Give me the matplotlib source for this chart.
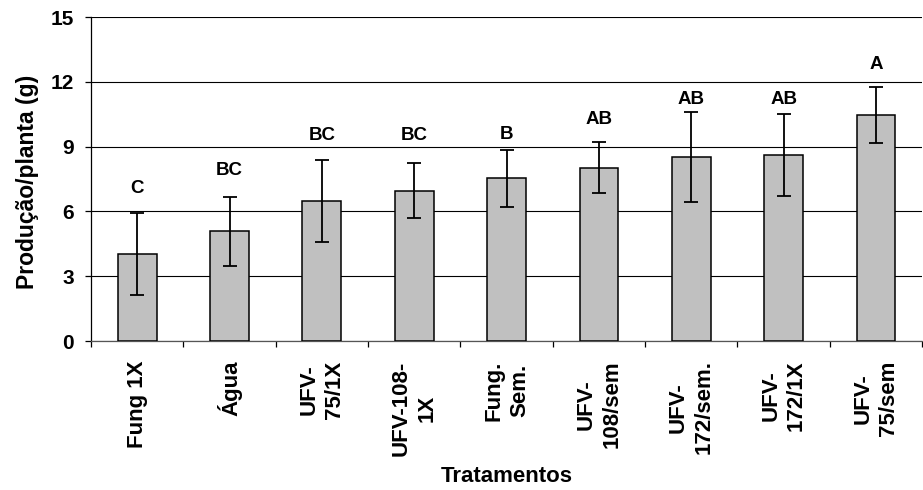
import numpy as np
import matplotlib.pyplot as plt
from matplotlib.ticker import FixedLocator

plt.rcParams['font.family'] = ['Liberation Sans', 'DejaVu Sans']
plt.rcParams['font.weight'] = 'bold'

# data
tratamentos = ['Fung 1X', 'Água', 'UFV-\n75/1X', 'UFV-108-\n1X', 'Fung.\nSem.',
               'UFV-\n108/sem', 'UFV-\n172/sem.', 'UFV-\n172/1X', 'UFV-\n75/sem']
producao = [4.03, 5.08, 6.48, 6.96, 7.53, 8.03, 8.53, 8.61, 10.48]
erro = [1.92, 1.60, 1.88, 1.27, 1.31, 1.19, 2.08, 1.88, 1.30]
letras = ['C', 'BC', 'BC', 'BC', 'B', 'AB', 'AB', 'AB', 'A']
letras_y = [6.84, 7.69, 9.31, 9.31, 9.34, 10.05, 10.97, 10.97, 12.6]

x = np.arange(len(tratamentos))

fig = plt.figure(figsize=(9.23, 4.9), dpi=100)
ax = fig.add_axes([0.0986, 0.304, 0.9005, 0.6613])

ax.bar(x, producao, width=0.42, color='#C0C0C0', edgecolor='black',
       linewidth=1.1, zorder=3)
ax.errorbar(x, producao, yerr=erro, fmt='none', ecolor='black',
            elinewidth=1.3, capsize=5, capthick=1.3, zorder=4)

for xi, lt, ly in zip(x, letras, letras_y):
    ax.text(xi, ly, lt, ha='center', va='baseline', fontsize=13.5,
            fontweight='bold')

ax.set_ylim(0, 15)
ax.set_xlim(-0.5, len(tratamentos) - 0.5)
ax.set_yticks([0, 3, 6, 9, 12, 15])
ax.yaxis.grid(True, color='black', linewidth=0.8, zorder=0)
ax.set_axisbelow(True)

ax.set_xticks(x)
ax.set_xticklabels(tratamentos, rotation=90, fontsize=16, fontweight='bold',
                   ha='center', va='top', multialignment='center',
                   linespacing=1.3)
ax.tick_params(axis='x', which='major', length=0, pad=14)
ax.xaxis.set_minor_locator(FixedLocator(np.arange(-0.5, len(tratamentos), 1.0)))
ax.tick_params(axis='x', which='minor', length=4.5, width=0.9, direction='out')
ax.tick_params(axis='y', length=4.5, width=0.9, direction='out', pad=8,
               labelsize=15)
for lab in ax.get_yticklabels():
    lab.set_fontweight('bold')

for s in ['top', 'right']:
    ax.spines[s].set_visible(False)
ax.spines['left'].set_linewidth(0.9)
ax.spines['bottom'].set_linewidth(0.9)
ax.spines['bottom'].set_color('#555555')

ax.set_ylabel('Produção/planta (g)', fontsize=16.5, fontweight='bold')
ax.yaxis.set_label_coords(-0.063, 0.49)
ax.set_xlabel('Tratamentos', fontsize=16, fontweight='bold')
ax.xaxis.set_label_coords(0.5, -0.385)

fig.savefig('out.png', dpi=100)
